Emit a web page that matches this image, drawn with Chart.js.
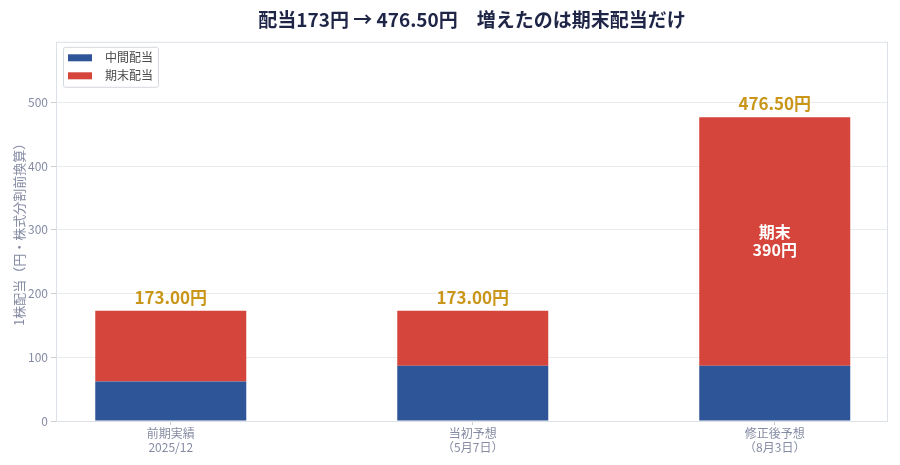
<!DOCTYPE html>
<html>
<head>
<meta charset="utf-8">
<script src="https://cdn.jsdelivr.net/npm/chart.js@4"></script>
<style>
  body { margin: 0; background: #fff; }
  #wrap { width: 900px; height: 465px; }
</style>
</head>
<body>
<div id="wrap"><canvas id="divChart"></canvas></div>
<script>
var categories = [['前期実績', '2025/12'], ['当初予想', '（5月7日）'], ['修正後予想', '（8月3日）']];
var interim = [62, 86.5, 86.5];
var yearEnd = [111, 86.5, 390];
var seriesNames = ['中間配当', '期末配当'];
var yTicks = [0, 100, 200, 300, 400, 500];

var blue = '#2E5597',
    red = '#D5453B',
    gold = '#C9961A',
    axisGray = '#858BA3',
    font = '"Noto Sans CJK JP", "Noto Sans", sans-serif';

var totals = interim.map(function (v, i) { return v + yearEnd[i]; });

function points(arr) {
    return arr.map(function (v, i) { return { x: i, y: v }; });
}

// frame around plot + legend box + value labels
var framePlugin = {
    id: 'frame',
    afterDraw: function (chart) {
        var c = chart.ctx, a = chart.chartArea;
        c.save();
        c.strokeStyle = '#DCE0E7';
        c.lineWidth = 1;
        c.strokeRect(a.left + 0.5, a.top + 0.5, a.right - a.left - 1, a.bottom - a.top);

        // legend
        var lx = a.left + 7, ly = a.top + 5, lw = 95, lh = 40;
        c.fillStyle = 'rgba(255,255,255,0.9)';
        c.strokeStyle = '#D5D8DE';
        c.beginPath();
        c.roundRect(lx + 0.5, ly + 0.5, lw, lh, 2);
        c.fill();
        c.stroke();
        c.font = '12px ' + font;
        c.textBaseline = 'middle';
        chart.data.datasets.forEach(function (ds, i) {
            var yy = ly + 11 + i * 18;
            c.fillStyle = ds.backgroundColor;
            c.fillRect(lx + 5, yy - 3.5, 24, 7);
            c.fillStyle = '#4A4A4A';
            c.fillText(ds.label, lx + 42, yy);
        });
        c.restore();
    },
    afterDatasetsDraw: function (chart) {
        var c = chart.ctx;
        var top = chart.getDatasetMeta(1).data;
        var bottom = chart.getDatasetMeta(0).data;
        c.save();
        c.textAlign = 'center';
        c.textBaseline = 'alphabetic';
        c.font = 'bold 17px ' + font;
        c.fillStyle = gold;
        top.forEach(function (bar, i) {
            c.fillText(totals[i].toFixed(2) + '円', bar.x, bar.y - 7);
        });
        // label inside the revised year-end segment
        var b = top[2];
        var mid = (b.y + bottom[2].y) / 2;
        c.fillStyle = '#fff';
        c.font = 'bold 16px ' + font;
        c.textBaseline = 'middle';
        c.fillText('期末', b.x, mid - 10);
        c.fillText(yearEnd[2] + '円', b.x, mid + 8);
        c.restore();
    }
};

var ctx = document.getElementById('divChart').getContext('2d');

var divChart = new Chart(ctx, {
    type: 'bar',
    data: {
        datasets: [{
            label: seriesNames[0],
            data: points(interim),
            backgroundColor: blue
        }, {
            label: seriesNames[1],
            data: points(yearEnd),
            backgroundColor: red
        }]
    },
    options: {
        responsive: true,
        maintainAspectRatio: false,
        animation: false,
        layout: { padding: { top: 0, right: 12, bottom: 0, left: 0 } },
        datasets: { bar: { barPercentage: 0.5, categoryPercentage: 1 } },
        plugins: {
            legend: { display: false },
            tooltip: { enabled: false },
            title: {
                display: true,
                fullSize: false,
                text: '配当173円 → 476.50円　増えたのは期末配当だけ',
                color: '#1F2547',
                font: { family: font, size: 19, weight: 'bold' },
                padding: { top: 8, bottom: 11 }
            }
        },
        scales: {
            x: {
                type: 'linear',
                stacked: true,
                offset: false,
                min: -0.38,
                max: 2.375,
                afterBuildTicks: function (axis) {
                    axis.ticks = categories.map(function (_, i) { return { value: i }; });
                },
                afterFit: function (axis) { axis.height = 44; },
                grid: { offset: false, drawOnChartArea: false, tickLength: 4, color: '#C9CDD6' },
                border: { display: false },
                ticks: {
                    autoSkip: false,
                    maxRotation: 0,
                    padding: 1,
                    color: axisGray,
                    font: { family: font, size: 12 },
                    callback: function (v) { return categories[v]; }
                }
            },
            y: {
                stacked: true,
                min: 0,
                max: 595,
                afterBuildTicks: function (axis) {
                    axis.ticks = yTicks.map(function (v) { return { value: v }; });
                },
                afterFit: function (axis) { axis.width = 56; },
                grid: { color: '#E8EBF0', tickLength: 5, tickColor: '#C9CDD6' },
                border: { display: false },
                ticks: {
                    padding: 3,
                    color: axisGray,
                    font: { family: font, size: 12 }
                },
                title: {
                    display: true,
                    text: '1株配当（円・株式分割前換算）',
                    color: axisGray,
                    font: { family: font, size: 13 },
                    padding: { top: 11, bottom: 0 }
                }
            }
        }
    },
    plugins: [framePlugin]
});
</script>
</body>
</html>
